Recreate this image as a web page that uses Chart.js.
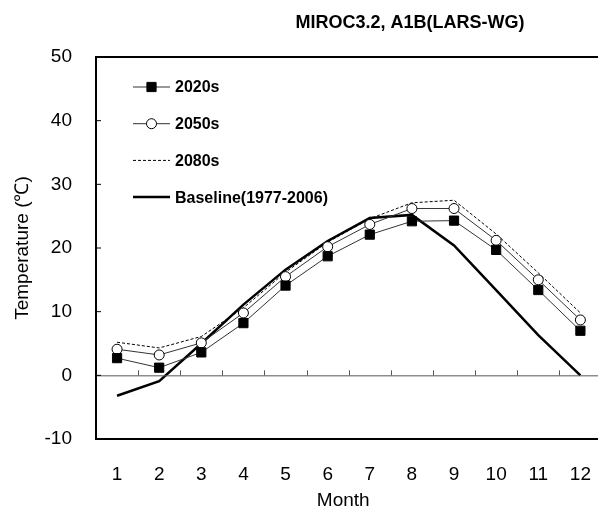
<!DOCTYPE html>
<html>
<head>
<meta charset="utf-8">
<script src="https://cdn.jsdelivr.net/npm/chart.js@4"></script>
<style>
  html, body { margin: 0; padding: 0; background: #fff; overflow: hidden; }
  canvas { display: block; }
</style>
</head>
<body>
<canvas id="chart" width="598" height="509"></canvas>
<script>
const months = [1, 2, 3, 4, 5, 6, 7, 8, 9, 10, 11, 12];
const s2020 = [2.7, 1.2, 3.6, 8.2, 14.1, 18.7, 22.1, 24.2, 24.3, 19.7, 13.4, 7.0];
const s2050 = [4.1, 3.2, 5.1, 9.8, 15.5, 20.2, 23.7, 26.2, 26.2, 21.2, 15.0, 8.7];
const s2080 = [5.2, 4.3, 6.1, 10.6, 16.2, 20.9, 24.6, 27.1, 27.5, 22.2, 16.1, 9.8];
const baseline = [-3.2, -0.9, 5.0, 11.1, 16.6, 21.1, 24.7, 25.2, 20.4, 13.4, 6.3, 0.0];
const yTicks = [-10, 0, 10, 20, 30, 40, 50];

const FONT = '"Liberation Sans", Arial, sans-serif';

const pts = arr => months.map((m, i) => ({ x: m, y: arr[i] }));

// frame, inner ticks, zero line ticks, title, legend
const decor = {
    id: 'decor',
    afterDatasetsDraw(chart) {
        const ctx = chart.ctx;
        const a = chart.chartArea;
        const x = chart.scales.x;
        const y = chart.scales.y;
        const W = chart.width;
        ctx.save();
        // zero line across and ticks between months
        const y0 = y.getPixelForValue(0);
        ctx.strokeStyle = '#555';
        ctx.lineWidth = 1;
        ctx.beginPath();
        ctx.moveTo(a.left, y0 + 0.5);
        ctx.lineTo(W, y0 + 0.5);
        months.forEach(m => {
            const xm = Math.round(x.getPixelForValue(m + 0.5)) + 0.5;
            ctx.moveTo(xm, y0);
            ctx.lineTo(xm, y0 - 5);
        });
        ctx.stroke();
        // inner ticks on left axis
        ctx.strokeStyle = '#000';
        ctx.beginPath();
        yTicks.forEach(v => {
            if (v <= -10 || v >= 50) return;
            const yp = y.getPixelForValue(v);
            ctx.moveTo(a.left, yp);
            ctx.lineTo(a.left + 5, yp);
        });
        ctx.stroke();
        // frame: left, top, bottom (right side runs off the picture)
        ctx.lineWidth = 2;
        ctx.beginPath();
        ctx.moveTo(W, a.top);
        ctx.lineTo(a.left, a.top);
        ctx.lineTo(a.left, a.bottom);
        ctx.lineTo(W, a.bottom);
        ctx.stroke();

        // title
        ctx.fillStyle = '#000';
        ctx.font = 'bold 18px ' + FONT;
        ctx.textAlign = 'center';
        ctx.textBaseline = 'middle';
        ctx.fillText('MIROC3.2, A1B(LARS-WG)', 410, 23);

        // legend
        const lx0 = a.left + 37, lx1 = a.left + 74, tx = a.left + 79;
        ctx.font = 'bold 16px ' + FONT;
        ctx.textAlign = 'left';
        chart.data.datasets.forEach((ds, i) => {
            const ly = a.top + 30 + i * 36.7;
            ctx.strokeStyle = ds.borderColor;
            ctx.lineWidth = ds.borderWidth;
            ctx.setLineDash(ds.borderDash || []);
            ctx.beginPath();
            ctx.moveTo(lx0, ly);
            ctx.lineTo(lx1, ly);
            ctx.stroke();
            ctx.setLineDash([]);
            if (ds.pointRadius > 0) {
                ctx.fillStyle = ds.pointBackgroundColor;
                ctx.strokeStyle = ds.pointBorderColor;
                ctx.lineWidth = 1;
                Chart.helpers.drawPoint(ctx, {
                    pointStyle: ds.pointStyle,
                    radius: ds.pointRadius,
                    borderWidth: 1
                }, (lx0 + lx1) / 2, ly);
            }
            ctx.fillStyle = '#000';
            ctx.fillText(ds.label, tx, ly + 1);
        });
        ctx.restore();
    }
};

new Chart(document.getElementById('chart'), {
    type: 'line',
    data: {
        datasets: [
            {
                label: '2020s',
                data: pts(s2020),
                borderColor: '#333',
                borderWidth: 1,
                pointStyle: 'rect',
                pointRadius: 6.5,
                pointBackgroundColor: '#000',
                pointBorderColor: '#000',
                pointBorderWidth: 1,
                order: 1
            },
            {
                label: '2050s',
                data: pts(s2050),
                borderColor: '#333',
                borderWidth: 1,
                pointStyle: 'circle',
                pointRadius: 5,
                pointBackgroundColor: '#fff',
                pointBorderColor: '#000',
                pointBorderWidth: 1,
                order: 2
            },
            {
                label: '2080s',
                data: pts(s2080),
                borderColor: '#000',
                borderWidth: 1,
                borderDash: [3, 2],
                pointRadius: 0,
                order: 3
            },
            {
                label: 'Baseline(1977-2006)',
                data: pts(baseline),
                borderColor: '#000',
                borderWidth: 2.5,
                pointRadius: 0,
                order: 4
            }
        ]
    },
    options: {
        responsive: false,
        animation: false,
        layout: { padding: { top: 57, right: 3, left: 0, bottom: 0 } },
        plugins: {
            legend: { display: false },
            title: { display: false },
            tooltip: { enabled: false }
        },
        scales: {
            x: {
                type: 'linear',
                min: 0.5,
                max: 12.24,
                afterBuildTicks(scale) { scale.ticks = months.map(v => ({ value: v })); },
                grid: { display: false, drawTicks: false },
                border: { display: false },
                ticks: { color: '#000', font: { family: FONT, size: 19 }, padding: 24 },
                title: {
                    display: true,
                    text: 'Month',
                    color: '#000',
                    font: { family: FONT, size: 19 },
                    padding: { top: 0, bottom: -3 }
                },
                afterFit(scale) {
                    scale.height = 70;
                    scale.paddingLeft = 0;
                    scale.paddingRight = 0;
                }
            },
            y: {
                min: -10,
                max: 50,
                afterBuildTicks(scale) { scale.ticks = yTicks.map(v => ({ value: v })); },
                grid: { display: false, drawTicks: false },
                border: { display: false },
                ticks: { color: '#000', font: { family: FONT, size: 19 }, padding: 24 },
                title: {
                    display: true,
                    text: 'Temperature (℃)',
                    color: '#000',
                    font: { family: FONT, size: 19 },
                    padding: { top: 11, bottom: 0 }
                },
                afterFit(scale) { scale.width = 96; }
            }
        }
    },
    plugins: [decor]
});
</script>
</body>
</html>
